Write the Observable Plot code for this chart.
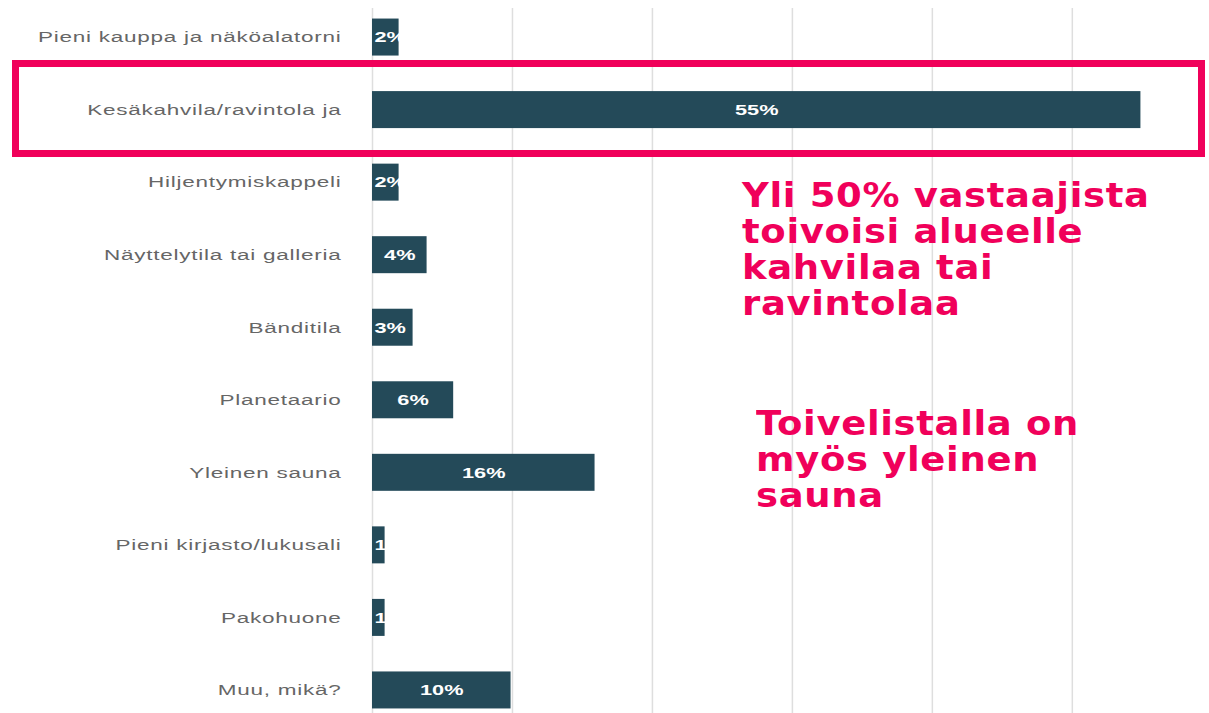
<!DOCTYPE html>
<html>
<head>
<meta charset="utf-8">
<script src="https://cdn.jsdelivr.net/npm/d3@7"></script>
<script src="https://cdn.jsdelivr.net/npm/@observablehq/plot@0.6"></script>
<style>
  html, body { margin: 0; padding: 0; background: #fff; }
  #wrap { position: relative; width: 1209px; height: 713px; overflow: hidden; }
  .box { position: absolute; left: 12px; top: 60px; width: 1179px; height: 83px; border: 7px solid #f0005a; }
  .note { position: absolute; color: #f0005a; font-family: "DejaVu Sans", sans-serif; font-weight: bold; font-size: 33px; line-height: 36px; letter-spacing: 0.6px; transform: scaleX(1.12); transform-origin: 0 0; white-space: nowrap; }
  .ylab text { letter-spacing: 0.5px; }
</style>
</head>
<body>
<div id="wrap"></div>
<script>
const categories = [
  "Pieni kauppa ja näköalatorni",
  "Kesäkahvila/ravintola ja",
  "Hiljentymiskappeli",
  "Näyttelytila tai galleria",
  "Bänditila",
  "Planetaario",
  "Yleinen sauna",
  "Pieni kirjasto/lukusali",
  "Pakohuone",
  "Muu, mikä?"
];
const values = [1.9, 54.9, 1.9, 3.9, 2.9, 5.8, 15.9, 0.9, 0.9, 9.9];
const labels = ["2%", "55%", "2%", "4%", "3%", "6%", "16%", "1%", "1%", "10%"];
const gridTicks = [0, 10, 20, 30, 40, 50];
const notes = [
  "Yli 50% vastaajista<br>toivoisi alueelle<br>kahvilaa tai<br>ravintolaa",
  "Toivelistalla on<br>myös yleinen<br>sauna"
];

const data = categories.map((c, i) => ({cat: c, v: values[i], label: labels[i]}));

const chart = Plot.plot({
  width: 1209,
  height: 713,
  marginLeft: 372,
  marginRight: 0,
  marginTop: 8,
  marginBottom: 0,
  style: {fontFamily: "'Liberation Sans', Arial, sans-serif", fontSize: "16px", background: "#fff"},
  x: {domain: [0, 59.8], axis: null},
  y: {domain: categories, range: [-17, 744], padding: 0.49, round: false, label: null, axis: null},
  marks: [
    Plot.ruleX(gridTicks, {stroke: "#dedede", strokeWidth: 1.5}),
    Plot.barX(data, {y: "cat", x: "v", fill: "#244a59"}),
    Plot.text(data.filter(d => d.v >= 3.5), {y: "cat", x: d => d.v / 2, text: "label", fill: "#fff", fontWeight: "bold", fontSize: 15, className: "inlab"}),
    Plot.text(data.filter(d => d.v < 3.5), {y: "cat", x: 0, text: "label", fill: "#fff", fontWeight: "bold", fontSize: 15, textAnchor: "start", dx: 2, className: "inlab"}),
    Plot.axisY({tickSize: 0, tickPadding: 31, fill: "#666", fontSize: 15, label: null, className: "ylab"})
  ]
});

function stretch(sel, sx) {
  d3.select(chart).selectAll(sel).each(function() {
    let t = this.getAttribute("transform") || "";
    const xa = this.getAttribute("x");
    const x = xa == null ? 0 : parseFloat(xa);
    if (xa != null && /^-?[\d.]+$/.test(xa.trim()) && x !== 0) {
      this.removeAttribute("x");
      t += ` translate(${x},0)`;
    }
    this.setAttribute("transform", `${t} scale(${sx},1)`);
  });
}
stretch(".ylab text", 1.5);
stretch(".inlab text", 1.45);

const wrap = document.getElementById("wrap");
wrap.appendChild(chart);
const box = document.createElement("div");
box.className = "box";
wrap.appendChild(box);
const pos = [[742, 178], [756, 406]];
notes.forEach((t, i) => {
  const n = document.createElement("div");
  n.className = "note";
  n.style.left = pos[i][0] + "px";
  n.style.top = pos[i][1] + "px";
  n.innerHTML = t;
  wrap.appendChild(n);
});
</script>
</body>
</html>
